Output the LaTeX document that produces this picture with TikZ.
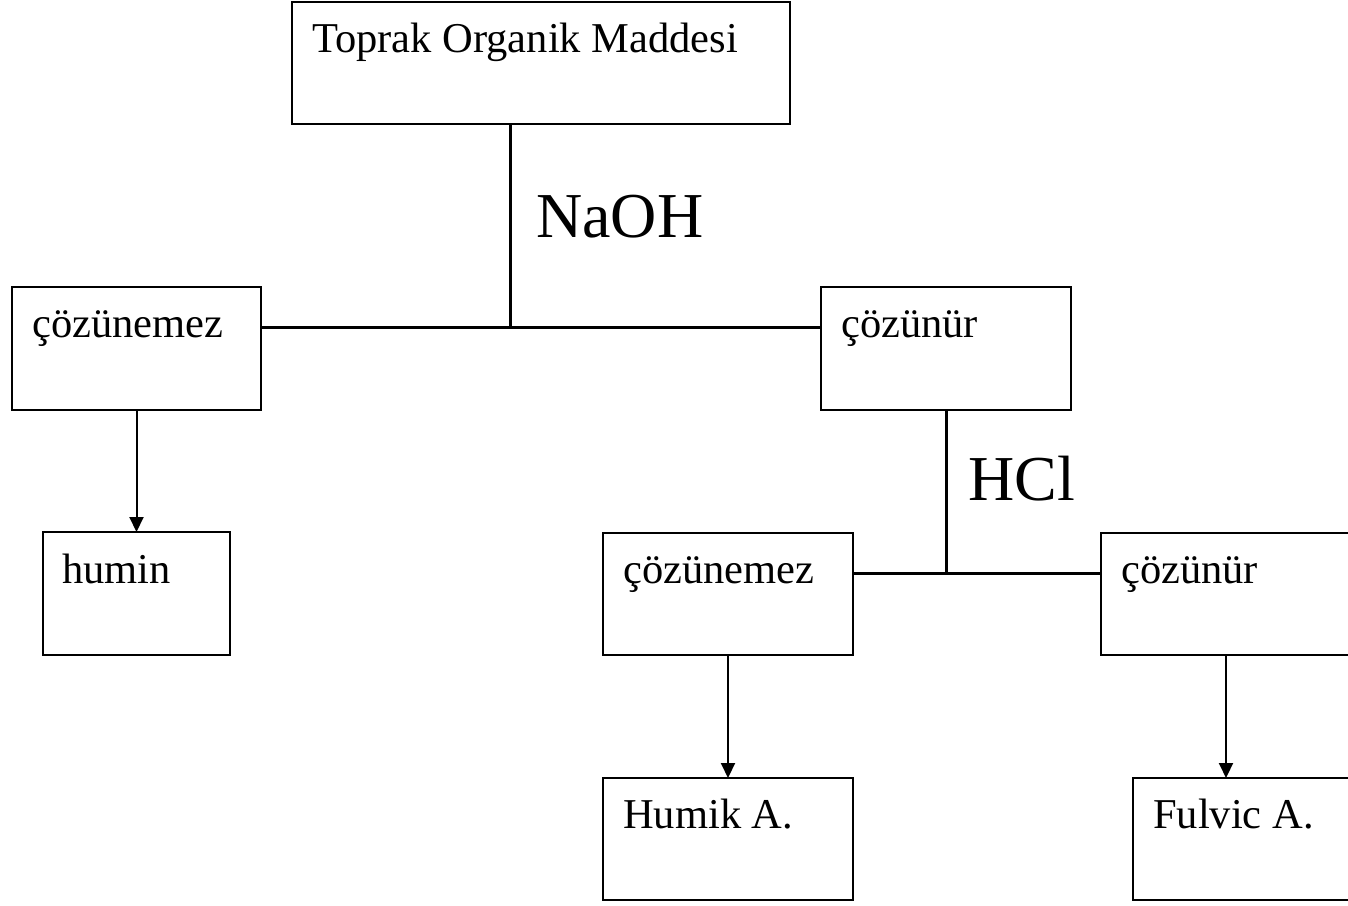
\documentclass[tikz,border=0pt]{standalone}
\usepackage{fontspec}
\setmainfont{Liberation Serif}
\usetikzlibrary{arrows.meta}
\begin{document}
\begin{tikzpicture}[x=1pt,y=-1pt,
  box/.style={draw=black,line width=2pt,rectangle,inner sep=0pt,outer sep=0pt},
  lbl/.style={anchor=base west,inner sep=0pt,font=\fontsize{42.5}{50}\selectfont},
  big/.style={anchor=base west,inner sep=0pt,font=\fontsize{64}{76}\selectfont},
  link/.style={line width=3pt},
  arr/.style={line width=2pt,-{Triangle[length=15pt,width=14pt]}}]
\useasboundingbox (0,0) rectangle (1348,905);
\clip (0,0) rectangle (1348,905);
% boxes
\node[box,minimum width=498pt,minimum height=122pt] (top) at (541,63) {};
\node[box,minimum width=249pt,minimum height=123pt] (lc) at (136.5,348.5) {};
\node[box,minimum width=187pt,minimum height=123pt] (hum) at (136.5,593.5) {};
\node[box,minimum width=250pt,minimum height=123pt] (rc) at (946,348.5) {};
\node[box,minimum width=250pt,minimum height=122pt] (c2) at (728,594) {};
\node[box,minimum width=250pt,minimum height=122pt] (s2) at (1226,594) {};
\node[box,minimum width=250pt,minimum height=122pt] (hk) at (728,839) {};
\node[box,minimum width=250pt,minimum height=122pt] (fv) at (1258,839) {};
% texts
\node[lbl] (ttop) at ([shift={(20,50)}]top.north west) {Toprak Organik Maddesi};
\node[lbl] (tlc) at ([shift={(20,50)}]lc.north west) {çözünemez};
\node[lbl] (thum) at ([shift={(19,51)}]hum.north west) {humin};
\node[lbl] (trc) at ([shift={(20,50)}]rc.north west) {çözünür};
\node[lbl] (tc2) at ([shift={(20,50)}]c2.north west) {çözünemez};
\node[lbl] (ts2) at ([shift={(20,50)}]s2.north west) {çözünür};
\node[lbl] (thk) at ([shift={(20,50)}]hk.north west) {Humik A.};
\node[lbl] (tfv) at ([shift={(20,50)}]fv.north west) {Fulvic A.};
\node[big] (naoh) at (536,237) {NaOH};
\node[big] (hcl) at (968,500) {HCl};
% junctions
\coordinate (topout) at ([xshift=-31pt]top.south);
\coordinate (j1l) at ([shift={(0,40)}]lc.north east);
\coordinate (j1r) at ([shift={(0,40)}]rc.north west);
\coordinate (j1) at (topout |- j1l);
\coordinate (j2l) at ([shift={(0,40)}]c2.north east);
\coordinate (j2r) at ([shift={(0,40)}]s2.north west);
\coordinate (j2) at (rc.south |- j2l);
% connectors
\draw[link] (topout) -- (j1);
\draw[link] (j1l) -- (j1r);
\draw[link] (rc.south) -- (j2);
\draw[link] (j2l) -- (j2r);
\draw[arr] (lc.south) -- (hum.north);
\draw[arr] (c2.south) -- (hk.north);
\draw[arr] (s2.south) -- (s2.south |- fv.north);
\end{tikzpicture}
\end{document}
